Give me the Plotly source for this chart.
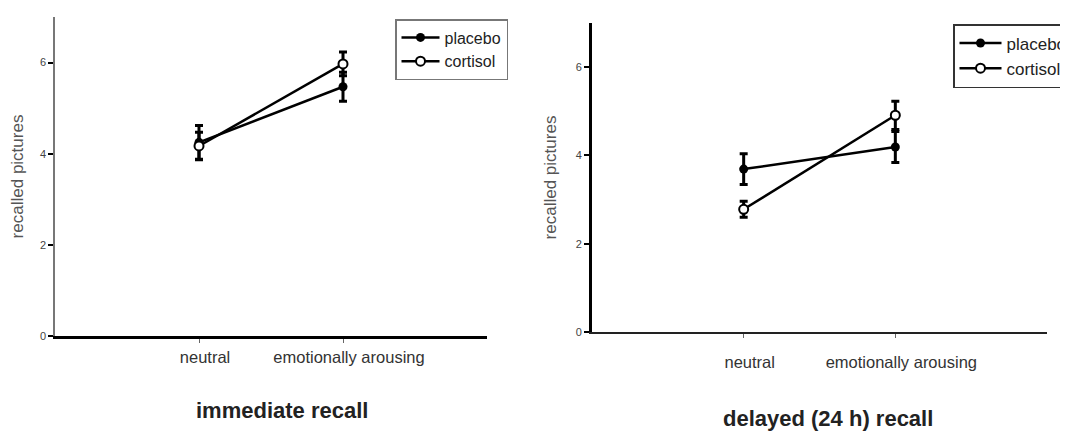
import plotly.graph_objects as go

categories = ["neutral", "emotionally arousing"]
y_ticks = [0, 2, 4, 6]

imm_placebo = [4.25, 5.47]
imm_placebo_err = [0.37, 0.32]
imm_cortisol = [4.17, 5.97]
imm_cortisol_err = [0.30, 0.26]

del_placebo = [3.69, 4.19]
del_placebo_err = [0.35, 0.35]
del_cortisol = [2.78, 4.91]
del_cortisol_err = [0.18, 0.32]

titles = ["immediate recall", "delayed (24 h) recall"]
y_title = "recalled pictures"

FONT = "Liberation Sans, Arial, sans-serif"
xpos = [i + 1 for i in range(len(categories))]

fig = go.Figure()

def add_pair(placebo, p_err, cortisol, c_err, xa, ya, legend):
    fig.add_trace(go.Scatter(
        x=xpos, y=placebo, name="placebo", mode="lines+markers",
        xaxis=xa, yaxis=ya, legend=legend,
        line=dict(color="black", width=2.5),
        marker=dict(symbol="circle", size=9, color="black"),
        error_y=dict(type="data", array=p_err, color="black", thickness=3, width=4),
    ))
    fig.add_trace(go.Scatter(
        x=xpos, y=cortisol, name="cortisol", mode="lines+markers",
        xaxis=xa, yaxis=ya, legend=legend,
        line=dict(color="black", width=2.5),
        marker=dict(symbol="circle", size=9, color="white",
                    line=dict(color="black", width=2)),
        error_y=dict(type="data", array=c_err, color="black", thickness=3, width=4),
    ))

add_pair(imm_placebo, imm_placebo_err, imm_cortisol, imm_cortisol_err, "x", "y", "legend")
add_pair(del_placebo, del_placebo_err, del_cortisol, del_cortisol_err, "x2", "y2", "legend2")

W, H = 1068, 433
OFF = 8  # page body margin

def px(x):
    return (x - OFF) / W

def py(y):
    return 1 - (y - OFF) / H

def xdom(a, b):
    return [px(a), px(b)]

def ydom(bottom_px, top_px):
    return [py(bottom_px), py(top_px)]

tickfont = dict(family=FONT, size=11, color="#444")

common_x = dict(range=[0, 3], tickmode="array", tickvals=xpos, ticktext=categories,
                ticks="outside", ticklen=4, tickcolor="#666", tickwidth=1,
                showgrid=False, zeroline=False, tickfont=dict(family=FONT, size=16.5, color="#333"),
                fixedrange=True, showline=True, automargin=False, ticklabelshift=6)

def ycfg(standoff):
    return dict(range=[0, 7], tickmode="array", tickvals=y_ticks,
                ticks="outside", ticklen=5, tickcolor="black", tickwidth=2,
                showgrid=False, zeroline=False, tickfont=tickfont, showline=True,
                automargin=False,
                title=dict(text=y_title, font=dict(family=FONT, size=17, color="#555"), standoff=standoff))

fig.update_layout(
    width=W, height=H,
    margin=dict(l=0, r=0, t=0, b=0),
    paper_bgcolor="white", plot_bgcolor="white",
    font=dict(family=FONT, color="black"),
    xaxis=dict(domain=xdom(55, 487), anchor="y", linecolor="black", linewidth=3, **common_x),
    yaxis=dict(domain=ydom(336, 17), anchor="x", linecolor="#777", linewidth=1.5, **ycfg(13)),
    xaxis2=dict(domain=xdom(592, 1047), anchor="y2", linecolor="#222", linewidth=1.5,
                ticklabelstandoff=10, **common_x),
    yaxis2=dict(domain=ydom(332, 23), anchor="x2", linecolor="black", linewidth=3, **ycfg(15)),
    legend=dict(x=px(395), y=py(19), xanchor="left", yanchor="top",
                bgcolor="white", bordercolor="#777", borderwidth=1.5,
                font=dict(family=FONT, size=16, color="#222"),
                tracegroupgap=0, itemwidth=38),
    legend2=dict(x=px(953), y=py(24), xanchor="left", yanchor="top",
                 bgcolor="white", bordercolor="#333", borderwidth=1.5,
                 font=dict(family=FONT, size=17, color="#222"),
                 tracegroupgap=0, itemwidth=42),
    showlegend=True,
    annotations=[
        dict(text="<b>" + titles[0] + "</b>", x=px(282), y=py(410), xref="paper", yref="paper",
             xanchor="center", yanchor="middle",
             showarrow=False, font=dict(family=FONT, size=22, color="#222")),
        dict(text="<b>" + titles[1] + "</b>", x=px(828), y=py(418), xref="paper", yref="paper",
             xanchor="center", yanchor="middle",
             showarrow=False, font=dict(family=FONT, size=22, color="#222")),
    ],
)

fig.write_html("out.html")
